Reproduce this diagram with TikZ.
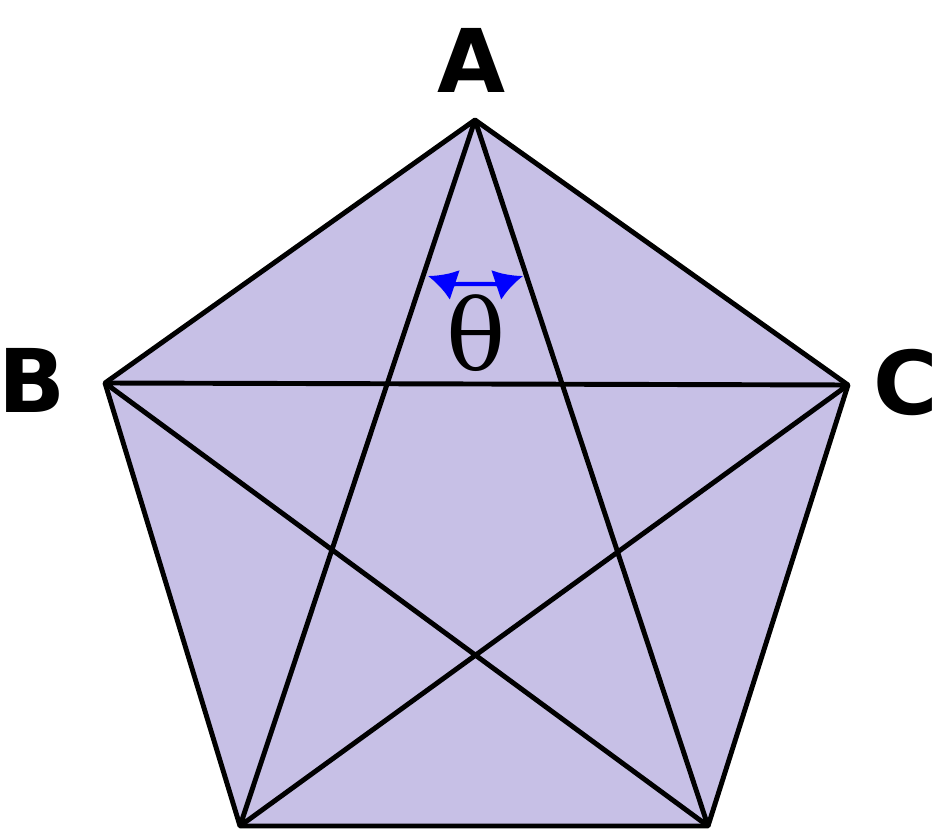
\documentclass[tikz,border=0pt]{standalone}
\usepackage{fontspec}
\setsansfont{DejaVu Sans}
\newfontfamily\thetafont{DejaVu Serif}
\usetikzlibrary{arrows.meta}
\begin{document}
\begin{tikzpicture}[x=0.01cm, y=-0.01cm, line width=1.4pt, line join=round,
	vlabel/.style={font=\sffamily\bfseries\fontsize{25}{30}\selectfont, inner sep=0pt}]
	\useasboundingbox (0,0) rectangle (940,831);
	\coordinate (A) at (475,120);
	\coordinate (B) at (105,383);
	\coordinate (C) at (848,385);
	\coordinate (D) at (240,826);
	\coordinate (E) at (708,826);
	\fill[fill={rgb,255:red,199;green,192;blue,230}] (A) -- (C) -- (E) -- (D) -- (B) -- cycle;
	\draw (A) -- (C) -- (E) -- (D) -- (B) -- cycle;
	\draw (A) -- (D) (A) -- (E) (B) -- (C) (B) -- (E) (C) -- (D);
	\node[vlabel] (la) at (472,60) {A};
	\node[vlabel] (lb) at (32,380) {B};
	\node[vlabel] (lc) at (906,382) {C};
	\node (th) at (476,333) {\thetafont\fontsize{28}{32}\selectfont θ};
	\coordinate (t1) at (428,276);
	\coordinate (t2) at (523,276);
	\draw[blue, line width=1.2pt, {Latex[length=8pt,width=9pt]}-{Latex[length=8pt,width=9pt]}]
		(t1) .. controls (452,284) and (499,284) .. (t2);
\end{tikzpicture}
\end{document}
